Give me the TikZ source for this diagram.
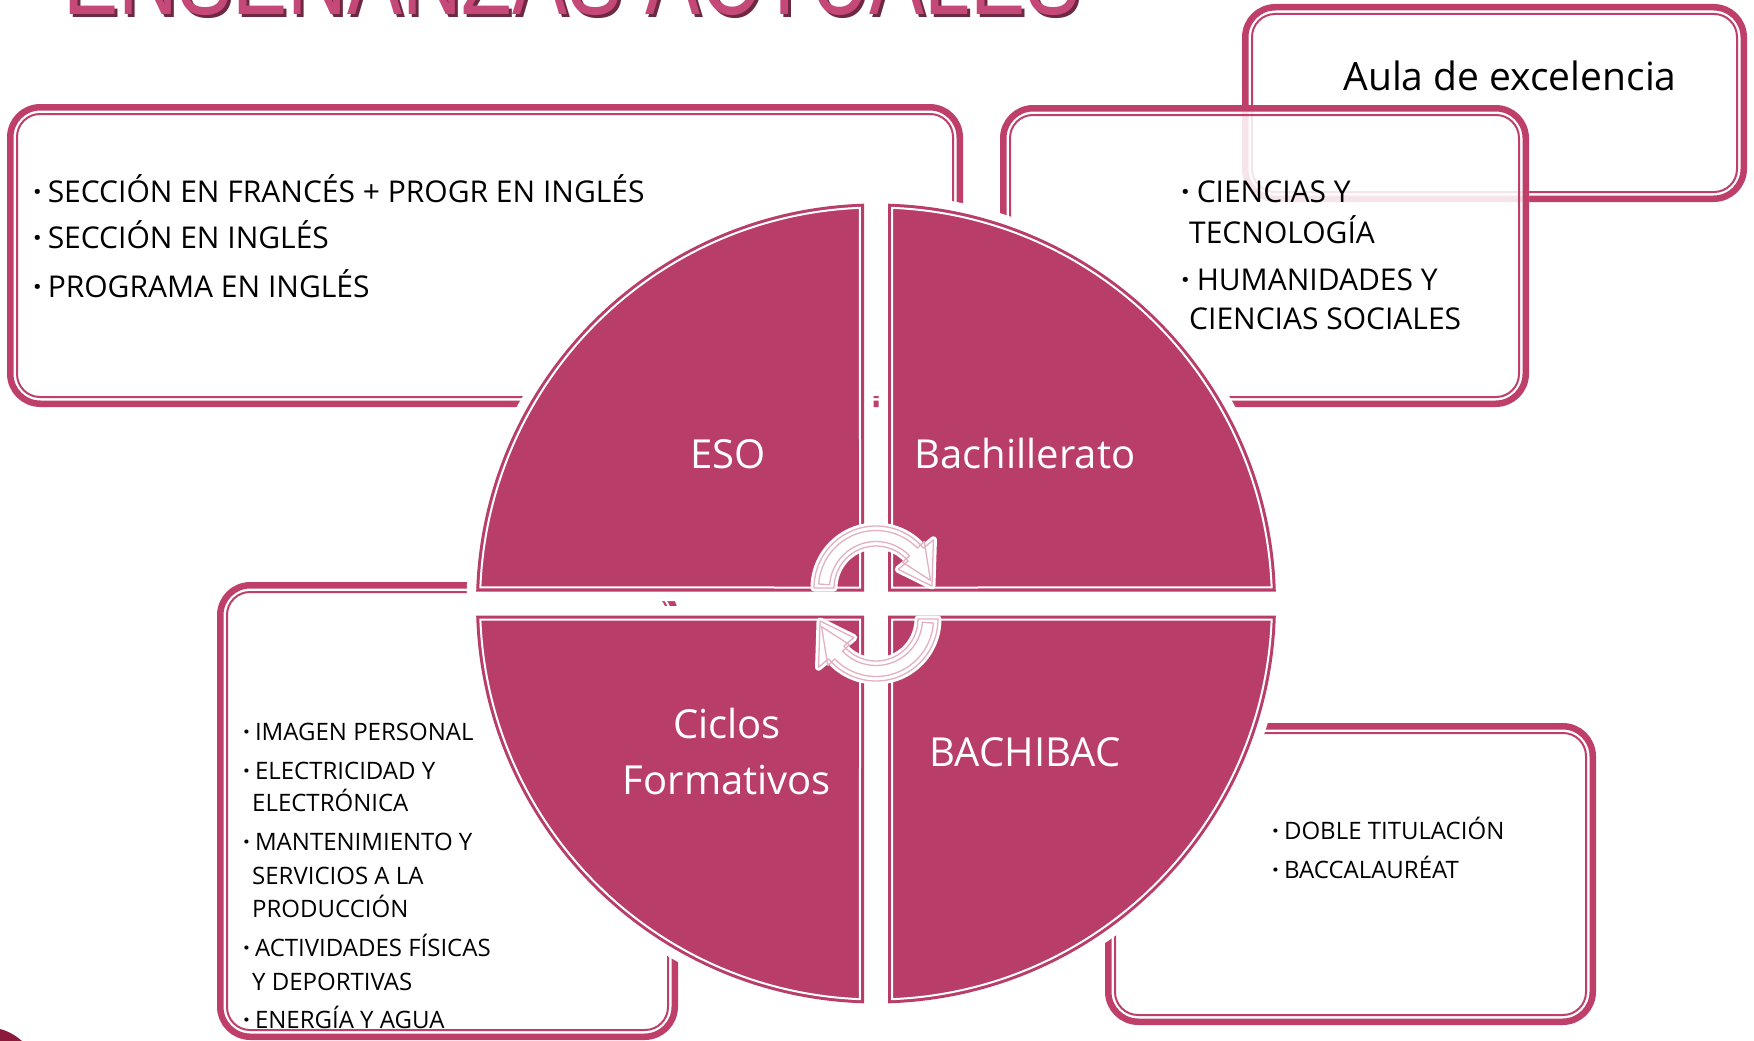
\documentclass[tikz,border=0pt]{standalone}
\usepackage{fontspec}
\setmainfont{Open Sans}
\newfontfamily\titlefont{Liberation Sans}[FakeStretch=0.75]
\definecolor{qpink}{RGB}{184,61,104}
\definecolor{boxpink}{RGB}{190,64,106}
\definecolor{arrpink}{RGB}{226,176,192}
\definecolor{titlepink}{RGB}{196,72,120}
\definecolor{titleshadow}{RGB}{110,40,66}
\definecolor{darkcrimson}{RGB}{140,26,60}
\newcommand{\dblbox}[4]{%
  \fill[white, fill opacity=0.86, rounded corners=33] (#1,#2) rectangle (#3,#4);
  \draw[boxout] ({#1+3.25},{#2+3.25}) rectangle ({#3-3.25},{#4-3.25});
  \draw[boxin] ({#1+10},{#2+10}) rectangle ({#3-10},{#4-10});
}
\newcommand{\bul}{\textbf{·}}
\begin{document}
\begin{tikzpicture}[x=1pt,y=-1pt,
  boxout/.style={draw=boxpink, line width=6.5, rounded corners=30},
  boxin/.style={draw=boxpink, line width=2, rounded corners=23},
  qhalo/.style={draw=white, line width=19, line join=round},
  qfill/.style={fill=qpink},
  qline/.style={draw=white, line width=2},
  arrhalo/.style={draw=white, fill=white, line width=7, line join=round},
  arrline/.style={draw=arrpink, line width=1.3, line join=round},
  bt/.style={anchor=base west, inner sep=0pt, text=black, font=\fontsize{30}{36}\selectfont},
  bs/.style={anchor=base west, inner sep=0pt, text=black, font=\fontsize{24}{29}\selectfont},
  ql/.style={anchor=base, inner sep=0pt, text=white, font=\fontsize{40}{48}\selectfont}]
\useasboundingbox (0,0) rectangle (1754,1041);
\clip (0,0) rectangle (1754,1041);

% title (cut at top edge)
\node[anchor=base, inner sep=0pt, text=titleshadow, font=\titlefont\fontsize{110}{110}\selectfont] (titleshadow) at (575,18) {ENSEÑANZAS ACTUALES};
\node[anchor=base, inner sep=0pt, text=titlepink, font=\titlefont\fontsize{110}{110}\selectfont] (title) at (572,15) {ENSEÑANZAS ACTUALES};

% corner swoosh
\fill[darkcrimson] (0,1029) .. controls (8,1031) and (15,1035) .. (22,1041) -- (0,1041) -- cycle;

% boxes
\dblbox{1242}{4}{1747}{202}
\dblbox{7}{104}{963}{407}
\dblbox{1000}{105}{1529}{407}
\dblbox{217}{582}{678}{1040}
\dblbox{1105}{723}{1596}{1025}

% quadrants
\begin{scope}[shift={(876,603.5)}]
  % top-right (Bachillerato)
  \path[qhalo] (12,-12) -- (-88.28:400) arc[start angle=-88.28, end angle=-1.72, radius=400] -- cycle;
  \path[qfill] (12,-12) -- (-88.28:400) arc[start angle=-88.28, end angle=-1.72, radius=400] -- cycle;
  \path[qline] (16,-16) -- (-87.68:396) arc[start angle=-87.68, end angle=-2.32, radius=396] -- cycle;
  % top-left (ESO)
  \path[qhalo] (-12,-12) -- (-178.28:400) arc[start angle=-178.28, end angle=-91.72, radius=400] -- cycle;
  \path[qfill] (-12,-12) -- (-178.28:400) arc[start angle=-178.28, end angle=-91.72, radius=400] -- cycle;
  \path[qline] (-16,-16) -- (-177.68:396) arc[start angle=-177.68, end angle=-92.32, radius=396] -- cycle;
  % bottom-left (Ciclos)
  \path[qhalo] (-12,12) -- (91.72:400) arc[start angle=91.72, end angle=178.28, radius=400] -- cycle;
  \path[qfill] (-12,12) -- (91.72:400) arc[start angle=91.72, end angle=178.28, radius=400] -- cycle;
  \path[qline] (-16,16) -- (92.32:396) arc[start angle=92.32, end angle=177.68, radius=396] -- cycle;
  % bottom-right (BACHIBAC)
  \path[qhalo] (12,12) -- (1.72:400) arc[start angle=1.72, end angle=88.28, radius=400] -- cycle;
  \path[qfill] (12,12) -- (1.72:400) arc[start angle=1.72, end angle=88.28, radius=400] -- cycle;
  \path[qline] (16,16) -- (2.32:396) arc[start angle=2.32, end angle=87.68, radius=396] -- cycle;
\end{scope}

% circular arrows
\begin{scope}[shift={(876,588)}]
  \path[arrhalo] (-180:62) arc[start angle=-180, end angle=-40, radius=62] -- (-40:75) -- (-2:56) -- (-40:29) -- (-40:42) arc[start angle=-40, end angle=-180, radius=42] -- cycle;
  \path[arrline] (-180:62) arc[start angle=-180, end angle=-40, radius=62] -- (-40:75) -- (-2:56) -- (-40:29) -- (-40:42) arc[start angle=-40, end angle=-180, radius=42] -- cycle;
  \path[arrline] (-176:57.5) arc[start angle=-176, end angle=-44, radius=57.5] -- (-44:67) -- (-8:55) -- (-44:37) -- (-44:46.5) arc[start angle=-44, end angle=-176, radius=46.5] -- cycle;
\end{scope}
\begin{scope}[shift={(876,619)}, rotate=180]
  \path[arrhalo] (-180:62) arc[start angle=-180, end angle=-40, radius=62] -- (-40:75) -- (-2:56) -- (-40:29) -- (-40:42) arc[start angle=-40, end angle=-180, radius=42] -- cycle;
  \path[arrline] (-180:62) arc[start angle=-180, end angle=-40, radius=62] -- (-40:75) -- (-2:56) -- (-40:29) -- (-40:42) arc[start angle=-40, end angle=-180, radius=42] -- cycle;
  \path[arrline] (-176:57.5) arc[start angle=-176, end angle=-44, radius=57.5] -- (-44:67) -- (-8:55) -- (-44:37) -- (-44:46.5) arc[start angle=-44, end angle=-176, radius=46.5] -- cycle;
\end{scope}

% quadrant labels
\node[ql] (eso) at (728,468) {ESO};
\node[ql] (bach) at (1025,468) {Bachillerato};
\node[ql] (ciclos1) at (727,738) {Ciclos};
\node[ql] (ciclos2) at (727,794) {Formativos};
\node[ql] (bachibac) at (1025,766) {BACHIBAC};

% Aula de excelencia
\node[anchor=base, inner sep=0pt, text=black, font=\fontsize{39}{46}\selectfont] (aula) at (1510,90) {Aula de excelencia};

% top-left box text
\node[bt] (tl1) at (33,202) {\bul\kern6pt SECCIÓN EN FRANCÉS + PROGR EN INGLÉS};
\node[bt] (tl2) at (33,248) {\bul\kern6pt SECCIÓN EN INGLÉS};
\node[bt] (tl3) at (33,297) {\bul\kern6pt PROGRAMA EN INGLÉS};

% top-right box text
\node[bt] (tr1) at (1181,202) {\bul\kern7pt CIENCIAS Y};
\node[bt] (tr2) at (1189,243) {TECNOLOGÍA};
\node[bt] (tr3) at (1181,290) {\bul\kern7pt HUMANIDADES Y};
\node[bt] (tr4) at (1189,329) {CIENCIAS SOCIALES};

% bottom-left box text
\node[bs] (bl1) at (243,740) {\bul\kern5pt IMAGEN PERSONAL};
\node[bs] (bl2) at (243,779.5) {\bul\kern5pt ELECTRICIDAD Y};
\node[bs] (bl3) at (252,811.5) {ELECTRÓNICA};
\node[bs] (bl4) at (243,850) {\bul\kern5pt MANTENIMIENTO Y};
\node[bs] (bl5) at (252,884) {SERVICIOS A LA};
\node[bs] (bl6) at (252,917) {PRODUCCIÓN};
\node[bs] (bl7) at (243,956) {\bul\kern5pt ACTIVIDADES FÍSICAS};
\node[bs] (bl8) at (252,990) {Y DEPORTIVAS};
\node[bs] (bl9) at (243,1028) {\bul\kern5pt ENERGÍA Y AGUA};

% bottom-right box text
\node[bs] (br1) at (1272,839) {\bul\kern5pt DOBLE TITULACIÓN};
\node[bs] (br2) at (1272,878) {\bul\kern5pt BACCALAURÉAT};
\end{tikzpicture}
\end{document}
